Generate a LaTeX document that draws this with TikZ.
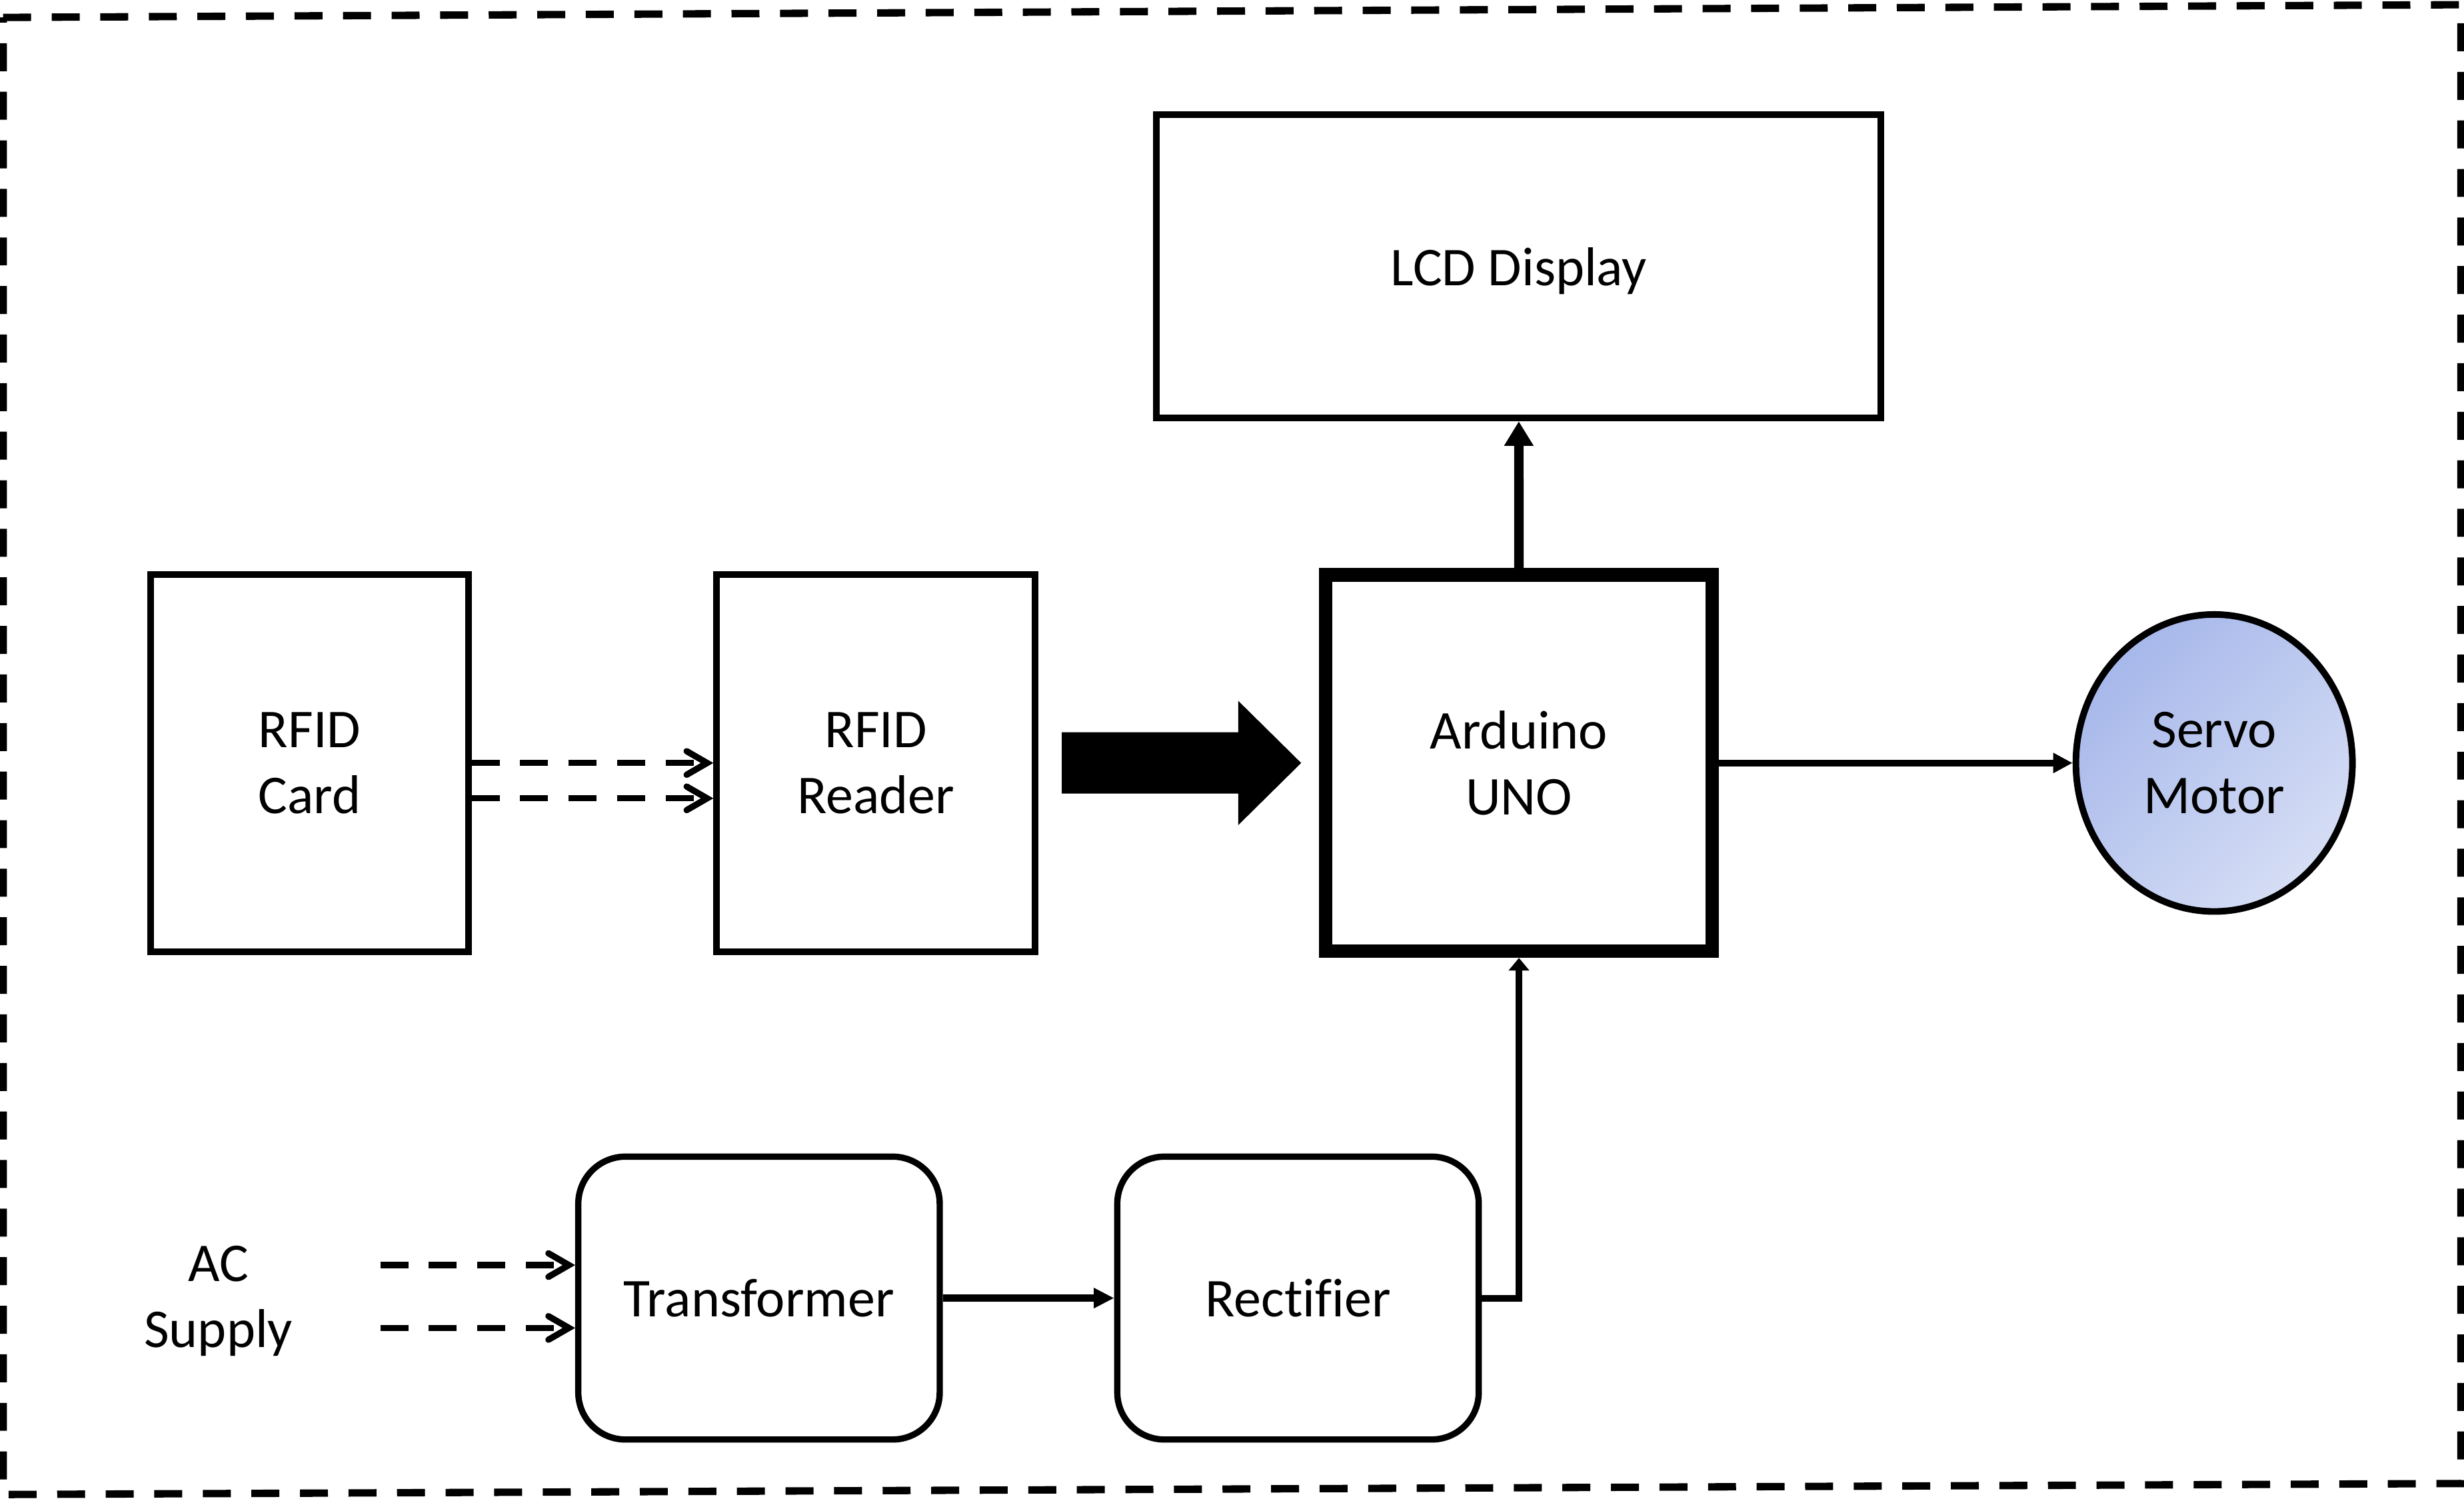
\documentclass[tikz,border=0pt]{standalone}
\usepackage{fontspec}
\setmainfont[Ligatures=CommonOff]{Carlito}
\usetikzlibrary{arrows.meta,calc,shapes.geometric}
\definecolor{servoTop}{RGB}{166,183,234}
\definecolor{servoBot}{RGB}{214,222,245}
\begin{document}
\begin{tikzpicture}[font=\fontsize{9.9pt}{11.9pt}\selectfont,
  blk/.style={draw,line width=0.042cm,align=center,inner sep=0pt},
  dashline/.style={line width=0.04cm,dash pattern=on 0.178cm off 0.131cm},
  barb/.style={-{Straight Barb[length=0.13cm,width=0.15cm,line cap=round]}}]
\useasboundingbox (0,0) rectangle (15.68,9.551);
\draw[line width=0.047cm,dash pattern=on 0.178cm off 0.131cm] (0.02,9.44) -- (15.66,9.521) -- (15.66,0.111) -- (0.02,0.041) -- cycle;
\node[blk,text depth=0pt,minimum width=4.61cm,minimum height=1.93cm] (lcd) at (9.665,7.856) {LCD Display};
\node[blk,minimum width=2.02cm,minimum height=2.40cm] (card) at (1.97,4.696) {RFID\\Card};
\node[blk,minimum width=2.027cm,minimum height=2.40cm] (reader) at (5.574,4.696) {RFID\\Reader};
\node[blk,line width=0.086cm,minimum width=2.458cm,minimum height=2.395cm] (uno) at (9.666,4.696) {Arduino\\UNO};
\node[ellipse,draw,line width=0.042cm,minimum width=1.76cm,minimum height=1.89cm,inner sep=0pt,align=center,
  top color=servoTop,bottom color=servoBot,shading angle=45] (servo) at (14.09,4.696) {Servo\\Motor};
\node[blk,line width=0.04cm,rounded corners=0.3cm,minimum width=2.30cm,minimum height=1.80cm] (trans) at (4.83,1.291) {Transformer};
\node[blk,line width=0.04cm,rounded corners=0.3cm,minimum width=2.30cm,minimum height=1.80cm] (rect) at (8.26,1.291) {Rectifier};
\node[align=center,inner sep=0pt] (ac) at (1.39,1.271) {AC\\Supply};
\coordinate (acA) at (2.42,1.501);
\coordinate (acB) at (2.42,1.101);
\coordinate (bigS) at ($(reader.east)+(0.148,0)$);
\coordinate (bigE) at ($(uno.west)+(-0.114,0)$);
\draw[dashline,barb] (card.east) -- (reader.west);
\draw[dashline,barb] ([yshift=-0.225cm]card.east) -- ([yshift=-0.225cm]reader.west);
\draw[dashline,barb] (acA) -- (acA -| trans.west);
\draw[dashline,barb] (acB) -- (acB -| trans.west);
\fill ($(bigS)+(0,0.195)$) -- ($(bigE)+(-0.40,0.195)$) -- ($(bigE)+(-0.40,0.395)$) -- (bigE)
  -- ($(bigE)+(-0.40,-0.395)$) -- ($(bigE)+(-0.40,-0.195)$) -- ($(bigS)+(0,-0.195)$) -- cycle;
\draw[line width=0.06cm,-{Triangle[length=0.156cm,width=0.177cm]}] (uno.north) -- (lcd.south);
\draw[line width=0.042cm,-{Triangle[length=0.123cm,width=0.121cm]}] (uno.east) -- (servo.west);
\draw[line width=0.045cm,-{Triangle[length=0.13cm,width=0.122cm]}] (trans.east) -- (rect.west);
\draw[line width=0.042cm,-{Triangle[length=0.08cm,width=0.127cm]}] (rect.east) -| (uno.south);
\end{tikzpicture}
\end{document}
